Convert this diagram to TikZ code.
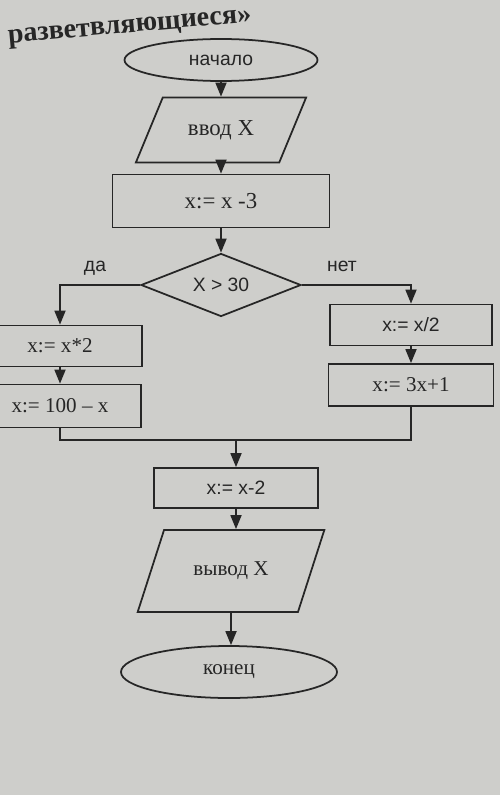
\documentclass[tikz,border=0pt]{standalone}
\usepackage{fontspec}
\setmainfont{Liberation Serif}
\newfontfamily\arialfont{Liberation Sans}
\usetikzlibrary{shapes.geometric, arrows.meta, calc}

\definecolor{paper}{RGB}{206,206,203}
\definecolor{ink}{RGB}{38,38,38}

\begin{document}
\begin{tikzpicture}[x=0.2mm, y=-0.2mm,
        every node/.style={text=ink, font=\fontsize{12}{14}\selectfont},
        big/.style={font=\fontsize{13}{15}\selectfont},
        sans/.style={font=\arialfont\fontsize{11}{13}\selectfont},
        line/.style={draw=ink, line width=1pt},
        box/.style={line, rectangle},
        io/.style={line, trapezium, trapezium left angle=60, trapezium right angle=120, trapezium stretches=true},
        term/.style={line, ellipse},
        cond/.style={line, diamond, aspect=2.5, inner sep=0pt},
        flow/.style={line, arrows={-{Triangle[length=2.8mm, width=2.2mm]}}}]
        \useasboundingbox (0, 0) rectangle (500, 795);
        \fill [paper] (0, 0) rectangle (500, 795);
        \clip (0, 0) rectangle (500, 795);
        \node [anchor=west, rotate=5, font=\bfseries\fontsize{16}{18}\selectfont] (title) at (2, 40) {разветвляющиеся»};
        % main line
        \node [term, sans, minimum width=38.6mm, minimum height=8.4mm] (start) at (221, 60) {начало};
        \node [io, big, minimum width=34.2mm, minimum height=13mm] (input) at (221, 130) {ввод X};
        \node [box, big, minimum width=43.4mm, minimum height=10.6mm] (sub3) at (221, 201) {x:= x -3};
        \node [cond, sans, minimum width=32mm, minimum height=12.6mm] (test) at (221, 285) {X > 30};
        % yes branch
        \node [box, minimum width=32.8mm, minimum height=8.2mm] (twice) at (60, 346) {x:= x*2};
        \node [box, minimum width=32.4mm, minimum height=8.6mm] (hundred) at (60, 406) {x:= 100 – x};
        \node [sans] (yes) at (95, 268) {да};
        % no branch
        \node [box, sans, minimum width=32.4mm, minimum height=8.2mm] (half) at (411, 325) {x:= x/2};
        \node [box, minimum width=33mm, minimum height=8.4mm] (triple) at (411, 385) {x:= 3x+1};
        \node [sans] (no) at (342, 266) {нет};
        % after the join
        \coordinate (join) at (236, 440);
        \node [box, sans, minimum width=32.8mm, minimum height=8mm] (sub2) at (236, 488) {x:= x-2};
        \node [io, minimum width=37.4mm, minimum height=16.4mm] (output) at (231, 571) {вывод X};
        \node [term, minimum width=43.2mm, minimum height=10.4mm] (stop) at (229, 672) {конец};
        \draw [flow] (start) -- (input);
        \draw [flow] (input) -- (sub3);
        \draw [flow] (sub3) -- (test);
        \draw [flow] (test.west) -| (twice.north);
        \draw [flow] (twice) -- (hundred);
        \draw [flow] (test.east) -| (half.north);
        \draw [flow] (half) -- (triple);
        \draw [line] (hundred.south) -- (hundred.south |- join) -- (triple.south |- join) -- (triple.south);
        \draw [flow] (join) -- (sub2);
        \draw [flow] (sub2.south) -- (sub2.south |- output.north);
        \draw [flow] (output.south) -- (output.south |- stop.north);
    \end{tikzpicture}
\end{document}
